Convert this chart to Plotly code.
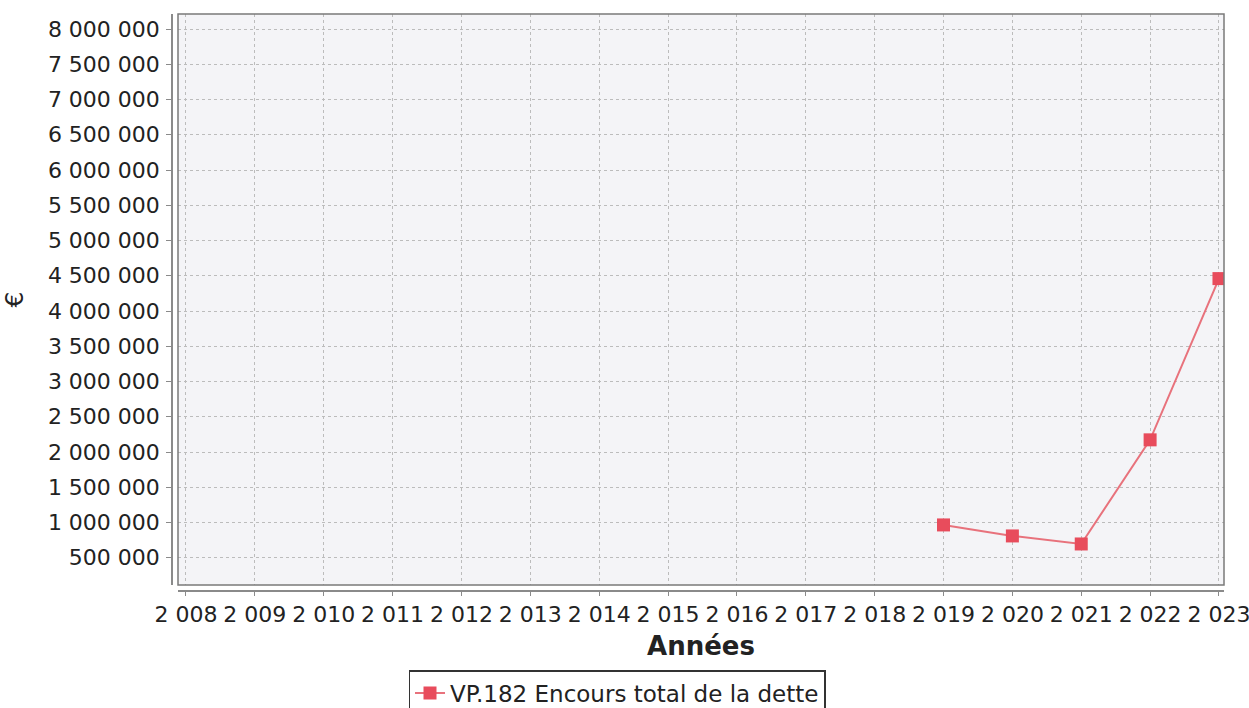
import plotly.graph_objects as go

years = [2019, 2020, 2021, 2022, 2023]
encours = [966000, 810000, 696000, 2173000, 4460000]
series_name = "VP.182 Encours total de la dette"
x_ticks = list(range(2008, 2024))
y_ticks = list(range(500000, 8000001, 500000))

W, H = 1249, 708
ml, mr, mt, mb = 172, 25, 14, 117
pw = W - ml - mr
ph = H - mt - mb
offx = 6 / pw
offy = 6 / ph

fig = go.Figure()
fig.add_trace(go.Scatter(
    x=years, y=encours, name=series_name, mode="lines+markers",
    line=dict(color="#e8727c", width=2),
    marker=dict(symbol="square", size=13, color="#e84c5c"),
    showlegend=True,
))

font = "DejaVu Sans, Verdana, sans-serif"
fig.update_layout(
    width=W, height=H,
    margin=dict(l=ml, r=mr, t=mt, b=mb, pad=0, autoexpand=False),
    paper_bgcolor="white",
    plot_bgcolor="#f4f4f7",
    separators=", ",
    font=dict(family=font, size=22, color="#222222"),
    xaxis=dict(
        domain=[offx, 1], anchor="free", position=0,
        range=[2007.884, 2023.073],
        tickvals=x_ticks, tickformat=",d",
        showline=True, linecolor="#8a8a8a", linewidth=1.5,
        ticks="outside", ticklen=4, tickcolor="#8a8a8a",
        showgrid=True, gridcolor="#bcbcbc", griddash="dot", gridwidth=1,
        zeroline=False, automargin=False, ticklabeloverflow="allow",
        tickfont=dict(size=22, color="#222222"),
        title=dict(text="<b>Années</b>", font=dict(size=26, color="#222222"), standoff=10),
    ),
    yaxis=dict(
        domain=[offy, 1], anchor="free", position=0,
        range=[114000, 8213000],
        tickvals=y_ticks, tickformat=",d",
        showline=True, linecolor="#8a8a8a", linewidth=1.5,
        ticks="outside", ticklen=5, tickcolor="#8a8a8a",
        ticklabelstandoff=2,
        showgrid=True, gridcolor="#bcbcbc", griddash="dot", gridwidth=1,
        zeroline=False, automargin=False, ticklabeloverflow="allow",
        tickfont=dict(size=22, color="#222222"),
        title=dict(text="€", font=dict(size=25, color="#222222"), standoff=16),
    ),
    legend=dict(
        orientation="h", xref="container", yref="container",
        x=617 / W, xanchor="center", y=1 - 670 / H, yanchor="top",
        bordercolor="#333333", borderwidth=1.5, bgcolor="white",
        font=dict(size=23, color="#222222"),
        itemwidth=30,
    ),
    shapes=[dict(type="rect", xref="paper", yref="paper",
                 x0=offx, x1=1, y0=offy, y1=1,
                 line=dict(color="#7a7a7a", width=1.5), layer="above")],
)

fig.write_html(
    "out.html",
    config={"displayModeBar": False},
    post_script="document.body.style.margin='0';document.body.style.overflow='hidden';",
)
